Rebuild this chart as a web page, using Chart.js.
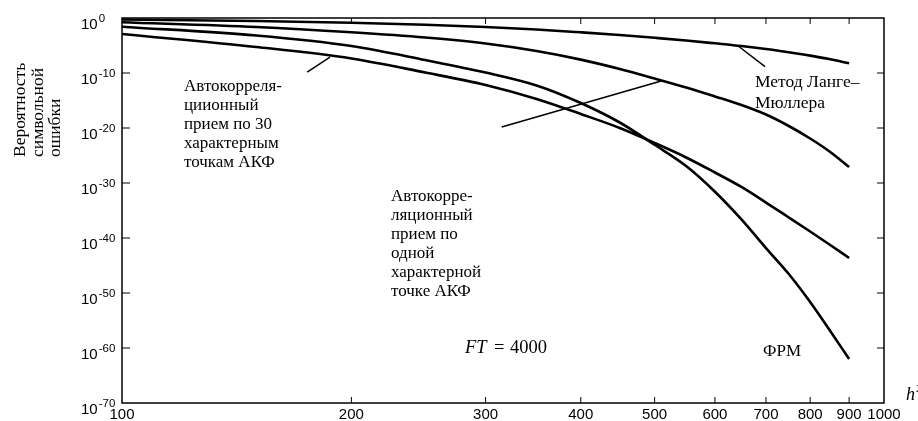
<!DOCTYPE html>
<html>
<head>
<meta charset="utf-8">
<style>
html,body{margin:0;padding:0;background:#fff;}
#wrap{width:918px;height:421px;position:relative;}
</style>
</head>
<body>
<div id="wrap"><canvas id="c"></canvas></div>
<script src="https://cdn.jsdelivr.net/npm/chart.js@4"></script>
<script>
// h^2 values (x axis)
const H2 = [100,150,200,250,300,350,400,450,500,550,600,650,700,750,800,850,900];
// Метод Ланге–Мюллера
const LANGE = [5.4e-1,2.8e-1,1.35e-1,5.8e-2,2.3e-2,8.1e-3,2.5e-3,8.1e-4,2.5e-4,8.1e-5,2.5e-5,8.1e-6,2.3e-6,5.8e-7,1.45e-7,3.2e-8,5.8e-9];
// Автокорреляционный прием по одной характерной точке АКФ
const ONE_POINT = [1.66e-1,2.3e-2,2.5e-3,2.8e-4,2.3e-5,1e-6,2.7e-8,5.4e-10,1e-11,2.3e-13,5.4e-15,1.5e-16,2.8e-18,2.3e-20,1.23e-22,4.4e-25,8.1e-28];
// ФРМ
const FRM = [2.6e-2,6.6e-4,8.1e-6,2.3e-8,1.23e-10,5.4e-13,3.5e-16,1e-19,8.9e-24,1.23e-27,2.6e-32,2.4e-37,1.5e-42,2.8e-47,2.3e-52,1.23e-57,1e-62];
// Автокорреляционный прием по 30 характерным точкам АКФ
const THIRTY_POINTS = [1.23e-3,5.4e-6,4.4e-8,1.23e-10,6.6e-13,1.9e-15,3.5e-18,1e-20,1.9e-23,4.4e-26,8.1e-29,1.9e-31,2.8e-34,5.4e-37,1.5e-39,5.4e-42,2.3e-44];

const X_TICKS = [100,200,300,400,500,600,700,800,900,1000];
const Y_TICK_EXP = [0,-10,-20,-30,-40,-50,-60,-70];
const Y_TICKS = [1,1e-10,1e-20,1e-30,1e-40,1e-50,1e-60,1e-70];

const SANS = '"Liberation Sans", Arial, sans-serif';
const SERIF = '"Liberation Serif", "Times New Roman", serif';

function series(vals){ return H2.map((h,i)=>({x:h,y:vals[i]})); }

const decor = {
  id:'decor',
  afterDraw(chart){
    const {ctx, chartArea:a, scales:{x,y}} = chart;
    ctx.save();
    ctx.strokeStyle = '#000';
    ctx.fillStyle = '#000';
    ctx.lineWidth = 1.5;
    ctx.strokeRect(a.left, a.top, a.right-a.left, a.bottom-a.top);
    // x ticks
    ctx.lineWidth = 1;
    ctx.font = '15px ' + SANS;
    ctx.textAlign = 'center';
    ctx.textBaseline = 'alphabetic';
    X_TICKS.forEach(v=>{
      const px = x.getPixelForValue(v);
      if (v !== X_TICKS[0] && v !== X_TICKS[X_TICKS.length-1]) {
        ctx.beginPath();
        ctx.moveTo(px, a.bottom); ctx.lineTo(px, a.bottom-6);
        ctx.moveTo(px, a.top); ctx.lineTo(px, a.top+6);
        ctx.stroke();
      }
      ctx.fillText(String(v), px, a.bottom+16);
    });
    // y ticks
    Y_TICKS.forEach((v,i)=>{
      const py = y.getPixelForValue(v);
      if (i !== 0 && i !== Y_TICKS.length-1) {
        ctx.beginPath();
        ctx.moveTo(a.left, py); ctx.lineTo(a.left+8, py);
        ctx.moveTo(a.right, py); ctx.lineTo(a.right-7, py);
        ctx.stroke();
      }
      ctx.textAlign = 'left';
      ctx.font = '15px ' + SANS;
      ctx.fillText('10', 81, py+11);
      const w = ctx.measureText('10').width;
      ctx.font = '11.5px ' + SANS;
      ctx.fillText(String(Y_TICK_EXP[i]), 81+w+1, py+4);
    });
    // y axis title
    ctx.font = '17.5px ' + SERIF;
    ctx.textAlign = 'left';
    [['Вероятность',25],['символьной',43],['ошибки',60]].forEach(([t,bx])=>{
      ctx.save();
      ctx.translate(bx, 157);
      ctx.rotate(-Math.PI/2);
      ctx.fillText(t, 0, 0);
      ctx.restore();
    });
    // x axis title h^2
    ctx.font = 'italic 18px ' + SERIF;
    ctx.fillText('h', 906, 400);
    const hw = ctx.measureText('h').width;
    ctx.font = '11px ' + SERIF;
    ctx.fillText('2', 906+hw+1, 392);
    // annotation texts
    ctx.font = '17px ' + SERIF;
    const block = (lines, lx, by, step)=>lines.forEach((t,k)=>ctx.fillText(t, lx, by+k*step));
    block(['Автокорреля-','циионный','прием по 30','характерным','точкам АКФ'], 184, 91, 19);
    block(['Автокорре-','ляционный','прием по','одной','характерной','точке АКФ'], 391, 201, 19);
    ctx.font = '17.5px ' + SERIF;
    block(['Метод Ланге–','Мюллера'], 755, 87, 21);
    ctx.font = '17px ' + SERIF;
    ctx.fillText('ФРМ', 763, 356);
    ctx.font = 'italic 18.5px ' + SERIF;
    ctx.fillText('FT', 465, 353);
    ctx.font = '18.5px ' + SERIF;
    ctx.fillText('=', 494, 353);
    ctx.fillText('4000', 510, 353);
    // leader lines (data coordinates)
    ctx.lineWidth = 1.5;
    const lead = (x1,y1,x2,y2)=>{
      ctx.beginPath();
      ctx.moveTo(x.getPixelForValue(x1), y.getPixelForValue(y1));
      ctx.lineTo(x.getPixelForValue(x2), y.getPixelForValue(y2));
      ctx.stroke();
    };
    lead(175, 1.5e-10, 187.5, 8.1e-8);
    lead(315, 1.5e-20, 510, 3.5e-12);
    lead(643, 9.1e-6, 698, 1.4e-9);
    ctx.restore();
  }
};

const lineStyle = {borderColor:'#000', borderWidth:2.6, pointRadius:0, fill:false, cubicInterpolationMode:'monotone'};

new Chart(document.getElementById('c'), {
  type:'line',
  data:{
    datasets:[
      Object.assign({label:'Метод Ланге–Мюллера', data:series(LANGE)}, lineStyle),
      Object.assign({label:'Автокорреляционный прием по одной характерной точке АКФ', data:series(ONE_POINT)}, lineStyle),
      Object.assign({label:'ФРМ', data:series(FRM)}, lineStyle),
      Object.assign({label:'Автокорреляционный прием по 30 характерным точкам АКФ', data:series(THIRTY_POINTS)}, lineStyle)
    ]
  },
  options:{
    animation:false,
    responsive:true,
    maintainAspectRatio:false,
    devicePixelRatio:1,
    layout:{padding:{top:18,right:34,left:0,bottom:0}},
    plugins:{legend:{display:false}, tooltip:{enabled:false}},
    scales:{
      x:{type:'logarithmic', min:100, max:1000,
         grid:{display:false}, border:{display:false}, ticks:{display:false},
         afterBuildTicks(s){ s.ticks = X_TICKS.map(v=>({value:v})); },
         afterFit(s){ s.height = 18; }},
      y:{type:'logarithmic', min:1e-70, max:1,
         grid:{display:false}, border:{display:false}, ticks:{display:false},
         afterBuildTicks(s){ s.ticks = Y_TICKS.map(v=>({value:v})); },
         afterFit(s){ s.width = 122; }}
    }
  },
  plugins:[decor]
});
</script>
</body>
</html>
